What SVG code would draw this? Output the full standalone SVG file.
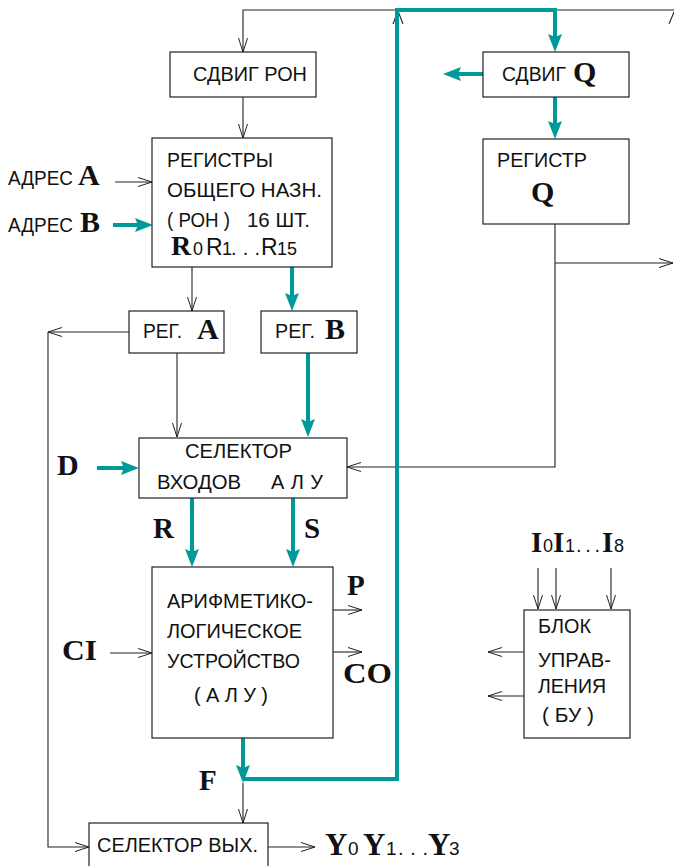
<svg xmlns="http://www.w3.org/2000/svg" width="674" height="866" viewBox="0 0 674 866">
<style>
.bg{fill:#fff}
.box{fill:#fff;stroke:#222;stroke-width:1.2}
.s{font-family:"Liberation Sans",Arial,sans-serif;font-size:20px;fill:#111}
.sub{font-family:"Liberation Sans",Arial,sans-serif;font-size:18px;fill:#111}
.b{font-family:"Liberation Serif","Times New Roman",serif;font-weight:bold;font-size:28px;fill:#111}
.k{fill:none;stroke:#222;stroke-width:1.1}
.t{fill:none;stroke:#009999;stroke-width:4}
</style>
<defs>
<marker id="oa" viewBox="0 0 14 10" refX="14" refY="5" markerWidth="14" markerHeight="10" markerUnits="userSpaceOnUse" orient="auto">
<path d="M0,0.5 L14,5 L0,9.5" fill="none" stroke="#222" stroke-width="1"/>
</marker>
<marker id="ta" viewBox="0 0 18 14" refX="6" refY="7" markerWidth="18" markerHeight="14" markerUnits="userSpaceOnUse" orient="auto">
<path d="M0,0 L18,7 L0,14 L3,7 z" fill="#009999"/>
</marker>
</defs>
<rect class="bg" x="0" y="0" width="674" height="866"/>

<g id="connectors">
<path class="k" d="M674,10 H243 V52" marker-end="url(#oa)"/>
<path class="k" d="M669,24 L674,12"/>
<path class="k" d="M393,24 L398,11 L403,24"/>
<path class="k" d="M243,97 V138" marker-end="url(#oa)"/>
<path class="k" d="M115,182 H152" marker-end="url(#oa)"/>
<path class="k" d="M192,267 V311" marker-end="url(#oa)"/>
<path class="k" d="M129,332 H48" marker-end="url(#oa)"/>
<path class="k" d="M48,332 V847 H89" marker-end="url(#oa)"/>
<path class="k" d="M177,353 V437" marker-end="url(#oa)"/>
<path class="k" d="M555,224 V467 H347" marker-end="url(#oa)"/>
<path class="k" d="M555,263 H673" marker-end="url(#oa)"/>
<path class="k" d="M110,653 H152" marker-end="url(#oa)"/>
<path class="k" d="M333,610 H362" marker-end="url(#oa)"/>
<path class="k" d="M333,652 H362" marker-end="url(#oa)"/>
<path class="k" d="M243,783 V823" marker-end="url(#oa)"/>
<path class="k" d="M268,847 H315" marker-end="url(#oa)"/>
<path class="k" d="M538,568 V609" marker-end="url(#oa)"/>
<path class="k" d="M556,568 V609" marker-end="url(#oa)"/>
<path class="k" d="M611,568 V609" marker-end="url(#oa)"/>
<path class="k" d="M524,652 H488" marker-end="url(#oa)"/>
<path class="k" d="M524,696 H488" marker-end="url(#oa)"/>

<path class="t" d="M243,738 V771" marker-end="url(#ta)"/>
<path class="t" d="M243,779 H397 V10 H555 V40" marker-end="url(#ta)"/>
<path class="t" d="M483,74 H455" marker-end="url(#ta)"/>
<path class="t" d="M555,97 V127" marker-end="url(#ta)"/>
<path class="t" d="M113,225 H141" marker-end="url(#ta)"/>
<path class="t" d="M292,267 V299" marker-end="url(#ta)"/>
<path class="t" d="M308,353 V425" marker-end="url(#ta)"/>
<path class="t" d="M97,468 H127" marker-end="url(#ta)"/>
<path class="t" d="M192,498 V555" marker-end="url(#ta)"/>
<path class="t" d="M293,498 V555" marker-end="url(#ta)"/>
</g>

<g id="sdvig-ron">
<rect class="box" x="170" y="52" width="146" height="45"/>
<text class="s" x="193" y="81" textLength="114" lengthAdjust="spacingAndGlyphs">СДВИГ РОН</text>
</g>

<g id="sdvig-q">
<rect class="box" x="483" y="52" width="146" height="45"/>
<text class="s" x="502" y="81" textLength="64" lengthAdjust="spacingAndGlyphs">СДВИГ</text>
<text class="b" x="573" y="82" style="font-size:30px">Q</text>
</g>

<g id="registr-q">
<rect class="box" x="483" y="139" width="146" height="85"/>
<text class="s" x="497" y="167" textLength="90" lengthAdjust="spacingAndGlyphs">РЕГИСТР</text>
<text class="b" x="531" y="202" style="font-size:30px">Q</text>
</g>

<g id="adres-a">
<text class="s" x="8" y="185" textLength="65" lengthAdjust="spacingAndGlyphs">АДРЕС</text>
<text class="b" x="78" y="185" style="font-size:30px">A</text>
</g>
<g id="adres-b">
<text class="s" x="8" y="232" textLength="65" lengthAdjust="spacingAndGlyphs">АДРЕС</text>
<text class="b" x="80" y="232" style="font-size:30px">B</text>
</g>

<g id="ron">
<rect class="box" x="152" y="138" width="180" height="129"/>
<text class="s" x="167" y="167" textLength="106" lengthAdjust="spacingAndGlyphs">РЕГИСТРЫ</text>
<text class="s" x="167" y="197" textLength="155" lengthAdjust="spacingAndGlyphs">ОБЩЕГО НАЗН.</text>
<text class="s" x="167" y="227" textLength="63" lengthAdjust="spacingAndGlyphs">( РОН )</text>
<text class="s" x="247" y="227" textLength="63" lengthAdjust="spacingAndGlyphs">16 ШТ.</text>
<text class="b" x="171" y="255" style="font-size:28px">R</text>
<text class="sub" x="193" y="255">0</text>
<text class="s" x="206" y="255" style="font-size:23px">R</text>
<text class="sub" x="222" y="255">1</text>
<text class="s" x="231" y="255" textLength="29">. . .</text>
<text class="s" x="261" y="255" style="font-size:23px">R</text>
<text class="sub" x="277" y="255">15</text>
</g>

<g id="reg-a">
<rect class="box" x="129" y="311" width="95" height="42"/>
<text class="s" x="143" y="338" textLength="39" lengthAdjust="spacingAndGlyphs">РЕГ.</text>
<text class="b" x="197" y="339" style="font-size:30px">A</text>
</g>

<g id="reg-b">
<rect class="box" x="261" y="311" width="96" height="42"/>
<text class="s" x="275" y="338" textLength="40" lengthAdjust="spacingAndGlyphs">РЕГ.</text>
<text class="b" x="325" y="339" style="font-size:30px">B</text>
</g>

<g id="selektor-vhodov">
<rect class="box" x="139" y="438" width="208" height="60"/>
<text class="s" x="185" y="458" textLength="107" lengthAdjust="spacingAndGlyphs">СЕЛЕКТОР</text>
<text class="s" x="157" y="489" textLength="84" lengthAdjust="spacingAndGlyphs">ВХОДОВ</text>
<text class="s" x="271" y="489" textLength="52">А Л У</text>
</g>

<g id="label-d"><text class="b" x="57" y="475" style="font-size:30px">D</text></g>
<g id="label-r"><text class="b" x="153" y="538" style="font-size:29px">R</text></g>
<g id="label-s"><text class="b" x="304" y="538" style="font-size:29px">S</text></g>

<g id="alu">
<rect class="box" x="152" y="567" width="181" height="171"/>
<text class="s" x="167" y="608" textLength="146" lengthAdjust="spacingAndGlyphs">АРИФМЕТИКО-</text>
<text class="s" x="167" y="638" textLength="135" lengthAdjust="spacingAndGlyphs">ЛОГИЧЕСКОЕ</text>
<text class="s" x="167" y="668" textLength="133" lengthAdjust="spacingAndGlyphs">УСТРОЙСТВО</text>
<text class="s" x="194" y="702" textLength="74">( А Л У )</text>
</g>

<g id="label-p"><text class="b" x="347" y="595" style="font-size:29px">P</text></g>
<g id="label-co"><text class="b" x="343" y="683" style="font-size:29px" textLength="49" lengthAdjust="spacingAndGlyphs">CO</text></g>
<g id="label-ci"><text class="b" x="62" y="660" style="font-size:29px" textLength="35" lengthAdjust="spacingAndGlyphs">CI</text></g>
<g id="label-f"><text class="b" x="199" y="790" style="font-size:29px">F</text></g>

<g id="bu">
<rect class="box" x="524" y="610" width="106" height="128"/>
<text class="s" x="538" y="633" textLength="53" lengthAdjust="spacingAndGlyphs">БЛОК</text>
<text class="s" x="538" y="667" textLength="73" lengthAdjust="spacingAndGlyphs">УПРАВ-</text>
<text class="s" x="538" y="693" textLength="68" lengthAdjust="spacingAndGlyphs">ЛЕНИЯ</text>
<text class="s" x="542" y="722" textLength="52" lengthAdjust="spacingAndGlyphs">( БУ )</text>
</g>

<g id="label-i">
<text class="b" x="531" y="552" style="font-size:29px">I</text>
<text class="sub" x="543" y="552">0</text>
<text class="b" x="553" y="552" style="font-size:29px">I</text>
<text class="sub" x="565" y="552">1</text>
<text class="s" x="576" y="552" textLength="24">. . .</text>
<text class="b" x="602" y="552" style="font-size:29px">I</text>
<text class="sub" x="614" y="552">8</text>
</g>

<g id="selektor-vyh">
<rect class="box" x="89" y="823" width="179" height="50"/>
<text class="s" x="97" y="852" textLength="161" lengthAdjust="spacingAndGlyphs">СЕЛЕКТОР ВЫХ.</text>
</g>

<g id="label-y">
<text class="b" x="325" y="855" style="font-size:31px">Y</text>
<text class="sub" x="348" y="855" style="font-size:19px">0</text>
<text class="b" x="363" y="855" style="font-size:31px">Y</text>
<text class="sub" x="386" y="855" style="font-size:19px">1</text>
<text class="s" x="398" y="855" textLength="30">. . .</text>
<text class="b" x="428" y="855" style="font-size:31px">Y</text>
<text class="sub" x="449" y="855" style="font-size:19px">3</text>
</g>
</svg>
